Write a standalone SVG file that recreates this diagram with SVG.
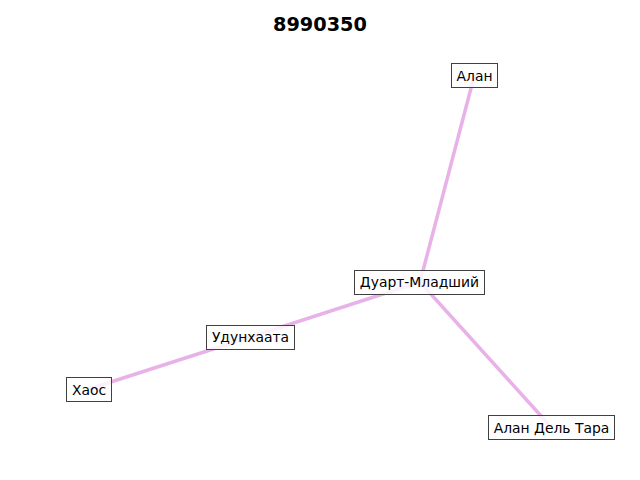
<svg xmlns="http://www.w3.org/2000/svg" width="640" height="480" viewBox="0 0 640 480">
<style>
.edge{stroke:#e8b2e8;stroke-width:3.5;fill:none;stroke-linecap:butt}
.box{fill:#ffffff;fill-opacity:0.8;stroke:#404040;stroke-width:1}
.lbl{font-family:"DejaVu Sans",sans-serif;font-size:13.9px;fill:#000;text-anchor:middle;dominant-baseline:central}
.title{font-family:"DejaVu Sans",sans-serif;font-size:19.3px;font-weight:bold;fill:#000;text-anchor:middle}
</style>
<rect width="640" height="480" fill="#ffffff"/>
<text class="title" x="320" y="31">8990350</text>
<g id="edges">
<line class="edge" x1="420" y1="282" x2="474.5" y2="75"/>
<line class="edge" x1="420" y1="282" x2="551.5" y2="427.5"/>
<line class="edge" x1="420" y1="282" x2="250.5" y2="337"/>
<line class="edge" x1="250.5" y1="337" x2="89" y2="389"/>
</g>
<g id="n-alan">
<rect class="box" x="451.5" y="63.5" width="46" height="24"/>
<text class="lbl" x="474.5" y="75.5">Алан</text>
</g>
<g id="n-duart">
<rect class="box" x="354.5" y="270.5" width="130" height="24"/>
<text class="lbl" x="419.5" y="282">Дуарт-Младший</text>
</g>
<g id="n-udunhaata">
<rect class="box" x="206.5" y="325.5" width="88" height="24"/>
<text class="lbl" x="250.5" y="337">Удунхаата</text>
</g>
<g id="n-haos">
<rect class="box" x="66.5" y="377.5" width="45" height="24"/>
<text class="lbl" x="89" y="389.5">Хаос</text>
</g>
<g id="n-alan-del-tara">
<rect class="box" x="488.5" y="415.5" width="126" height="24"/>
<text class="lbl" x="551.5" y="427.5">Алан Дель Тара</text>
</g>
</svg>
